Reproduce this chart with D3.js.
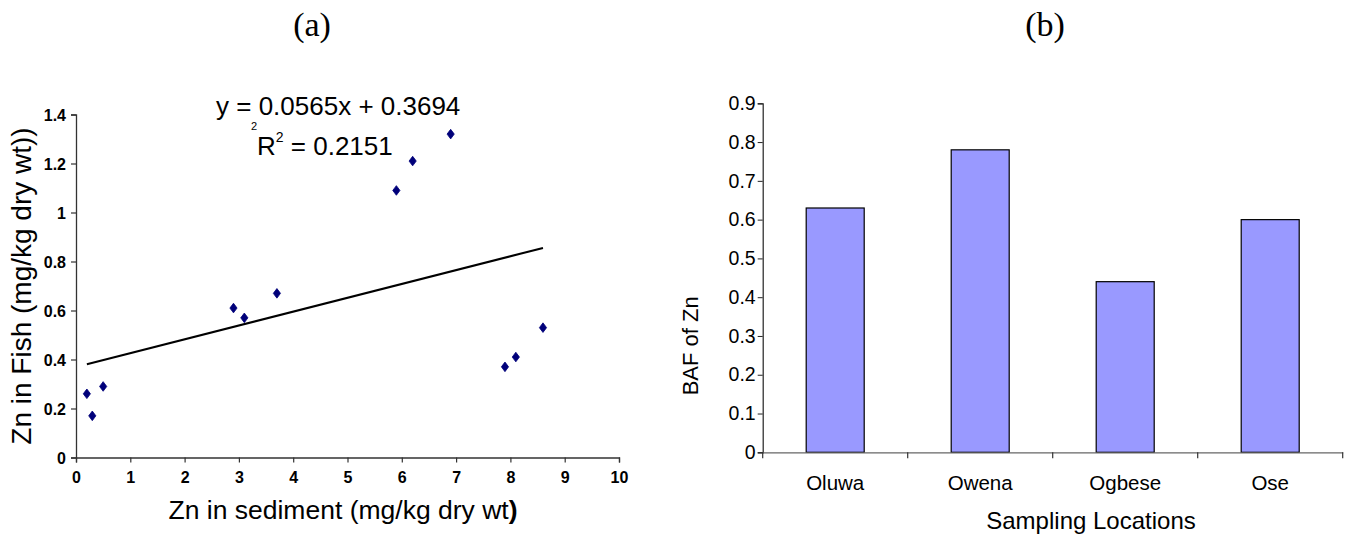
<!DOCTYPE html>
<html>
<head>
<meta charset="utf-8">
<script src="https://cdn.jsdelivr.net/npm/d3@7"></script>
<style>
  html, body { margin: 0; padding: 0; background: #fff; }
  svg { display: block; }
  text { font-family: "Liberation Sans", Arial, sans-serif; fill: #000; }
</style>
</head>
<body>
<svg id="chart" width="1359" height="540"></svg>
<script>
// ---------- Data (a): scatter ----------
const sedimentZn = [0.2, 0.3, 0.5, 2.9, 3.1, 3.7, 5.9, 6.2, 6.9, 7.9, 8.1, 8.6];
const fishZn     = [0.26, 0.17, 0.29, 0.61, 0.57, 0.67, 1.09, 1.21, 1.32, 0.37, 0.41, 0.53];
const trendSlope = 0.0565;
const trendIntercept = 0.3694;
const scatterXTicks = [0, 1, 2, 3, 4, 5, 6, 7, 8, 9, 10];
const scatterYTicks = [0, 0.2, 0.4, 0.6, 0.8, 1, 1.2, 1.4];

// ---------- Data (b): bar ----------
const locations = ["Oluwa", "Owena", "Ogbese", "Ose"];
const bafValues = [0.63, 0.78, 0.44, 0.60];
const barYTicks = [0, 0.1, 0.2, 0.3, 0.4, 0.5, 0.6, 0.7, 0.8, 0.9];

const svg = d3.select("#chart");

// Titles
svg.append("text").attr("x", 312).attr("y", 36).attr("text-anchor", "middle")
  .style("font-family", "'Liberation Serif', 'Times New Roman', serif").style("font-size", "34px").text("(a)");
svg.append("text").attr("x", 1045).attr("y", 36).attr("text-anchor", "middle")
  .style("font-family", "'Liberation Serif', 'Times New Roman', serif").style("font-size", "34px").text("(b)");

// ================= (a) scatter =================
const xA = d3.scaleLinear().domain([0, 10]).range([76, 619]);
const yA = d3.scaleLinear().domain([0, 1.4]).range([457.5, 114.5]);

const gAx = svg.append("g").attr("transform", `translate(0,${yA(0)})`)
  .call(d3.axisBottom(xA).tickValues(scatterXTicks).tickFormat(d3.format("d")).tickSize(5).tickPadding(9));
const gAy = svg.append("g").attr("transform", `translate(${xA(0)},0)`)
  .call(d3.axisLeft(yA).tickValues(scatterYTicks).tickFormat(d => d3.format("")(+d.toFixed(1))).tickSize(5).tickPadding(5));
[gAx, gAy].forEach(g => {
  g.select(".domain").attr("stroke", "#333").attr("stroke-width", 1.3);
  g.selectAll(".tick line").attr("stroke", "#333").attr("stroke-width", 1.2);
  g.selectAll(".tick text").style("font-family", "'Liberation Sans', Arial, sans-serif")
    .style("font-size", "16px").style("font-weight", "bold").attr("fill", "#000");
});
gAy.selectAll(".tick text").attr("dy", "0.35em");

// trendline between min and max x
const xMin = d3.min(sedimentZn), xMax = d3.max(sedimentZn);
svg.append("line")
  .attr("x1", xA(xMin)).attr("y1", yA(trendSlope * xMin + trendIntercept))
  .attr("x2", xA(xMax)).attr("y2", yA(trendSlope * xMax + trendIntercept))
  .attr("stroke", "#000").attr("stroke-width", 2);

// diamond markers
const diamond = "M0,-4.8L3.6,0L0,4.8L-3.6,0Z";
svg.append("g").selectAll("path").data(sedimentZn.map((x, i) => [x, fishZn[i]]))
  .join("path")
  .attr("d", diamond)
  .attr("transform", d => `translate(${xA(d[0])},${yA(d[1])})`)
  .attr("fill", "#00007a").attr("stroke", "#00007a").attr("stroke-width", 0.8);

// equation text
svg.append("text").attr("x", 216).attr("y", 115).style("font-size", "26px")
  .text(`y = ${trendSlope}x + ${trendIntercept}`);
svg.append("text").attr("x", 251).attr("y", 130).style("font-size", "11px").text("2");
const r2 = svg.append("text").attr("x", 257).attr("y", 155).style("font-size", "26px");
r2.append("tspan").text("R");
r2.append("tspan").attr("dy", -13).style("font-size", "14px").text("2");
r2.append("tspan").attr("dy", 13).text(" = 0.2151");

// axis titles
svg.append("text").attr("x", 343).attr("y", 519).attr("text-anchor", "middle")
  .style("font-size", "26.5px").text("Zn in sediment (mg/kg dry wt")
  .append("tspan").style("font-weight", "bold").text(")");
svg.append("text").attr("transform", `translate(31,${(yA(0) + yA(1.4)) / 2}) rotate(-90)`)
  .attr("text-anchor", "middle").style("font-size", "28px").text("Zn in Fish (mg/kg dry wt))");

// ================= (b) bar =================
const xB = d3.scaleBand().domain(locations).range([762.7, 1342.7]).paddingInner(0.6).paddingOuter(0.3);
const yB = d3.scaleLinear().domain([0, 0.9]).range([452.3, 103.3]);

svg.append("g").selectAll("rect").data(locations.map((c, i) => [c, bafValues[i]]))
  .join("rect")
  .attr("x", d => xB(d[0])).attr("width", xB.bandwidth())
  .attr("y", d => yB(d[1])).attr("height", d => yB(0) - yB(d[1]))
  .attr("fill", "#9999ff").attr("stroke", "#000").attr("stroke-width", 1.2);

const gBy = svg.append("g").attr("transform", `translate(${xB.range()[0]},0)`)
  .call(d3.axisLeft(yB).tickValues(barYTicks).tickFormat(d => d3.format("")(+d.toFixed(1))).tickSize(5).tickPadding(2));
gBy.select(".domain").attr("stroke", "#222").attr("stroke-width", 1.2);
gBy.selectAll(".tick line").attr("stroke", "#222");
gBy.selectAll(".tick text").style("font-family", "'Liberation Sans', Arial, sans-serif")
  .style("font-size", "19.5px").attr("fill", "#000");

// x axis line with ticks at band boundaries
const gBx = svg.append("g").attr("transform", `translate(0,${yB(0)})`)
  .call(d3.axisBottom(xB).tickSize(0).tickPadding(23));
gBx.select(".domain").attr("stroke", "#666").attr("stroke-width", 1.2);
gBx.selectAll(".tick text").style("font-family", "'Liberation Sans', Arial, sans-serif")
  .style("font-size", "20.5px").attr("fill", "#000");
const step = xB.step();
const boundaries = d3.range(locations.length + 1).map(i => xB.range()[0] + i * step);
svg.append("g").selectAll("line").data(boundaries).join("line")
  .attr("x1", d => d).attr("x2", d => d)
  .attr("y1", yB(0)).attr("y2", yB(0) + 6)
  .attr("stroke", "#333").attr("stroke-width", 1.2);

svg.append("text").attr("x", 1091).attr("y", 529).attr("text-anchor", "middle")
  .style("font-size", "24px").text("Sampling Locations");
svg.append("text").attr("transform", `translate(698,${(yB(0) + yB(0.9)) / 2 + 68}) rotate(-90)`)
  .attr("text-anchor", "middle").style("font-size", "22px").text("BAF of Zn");
</script>
</body>
</html>
